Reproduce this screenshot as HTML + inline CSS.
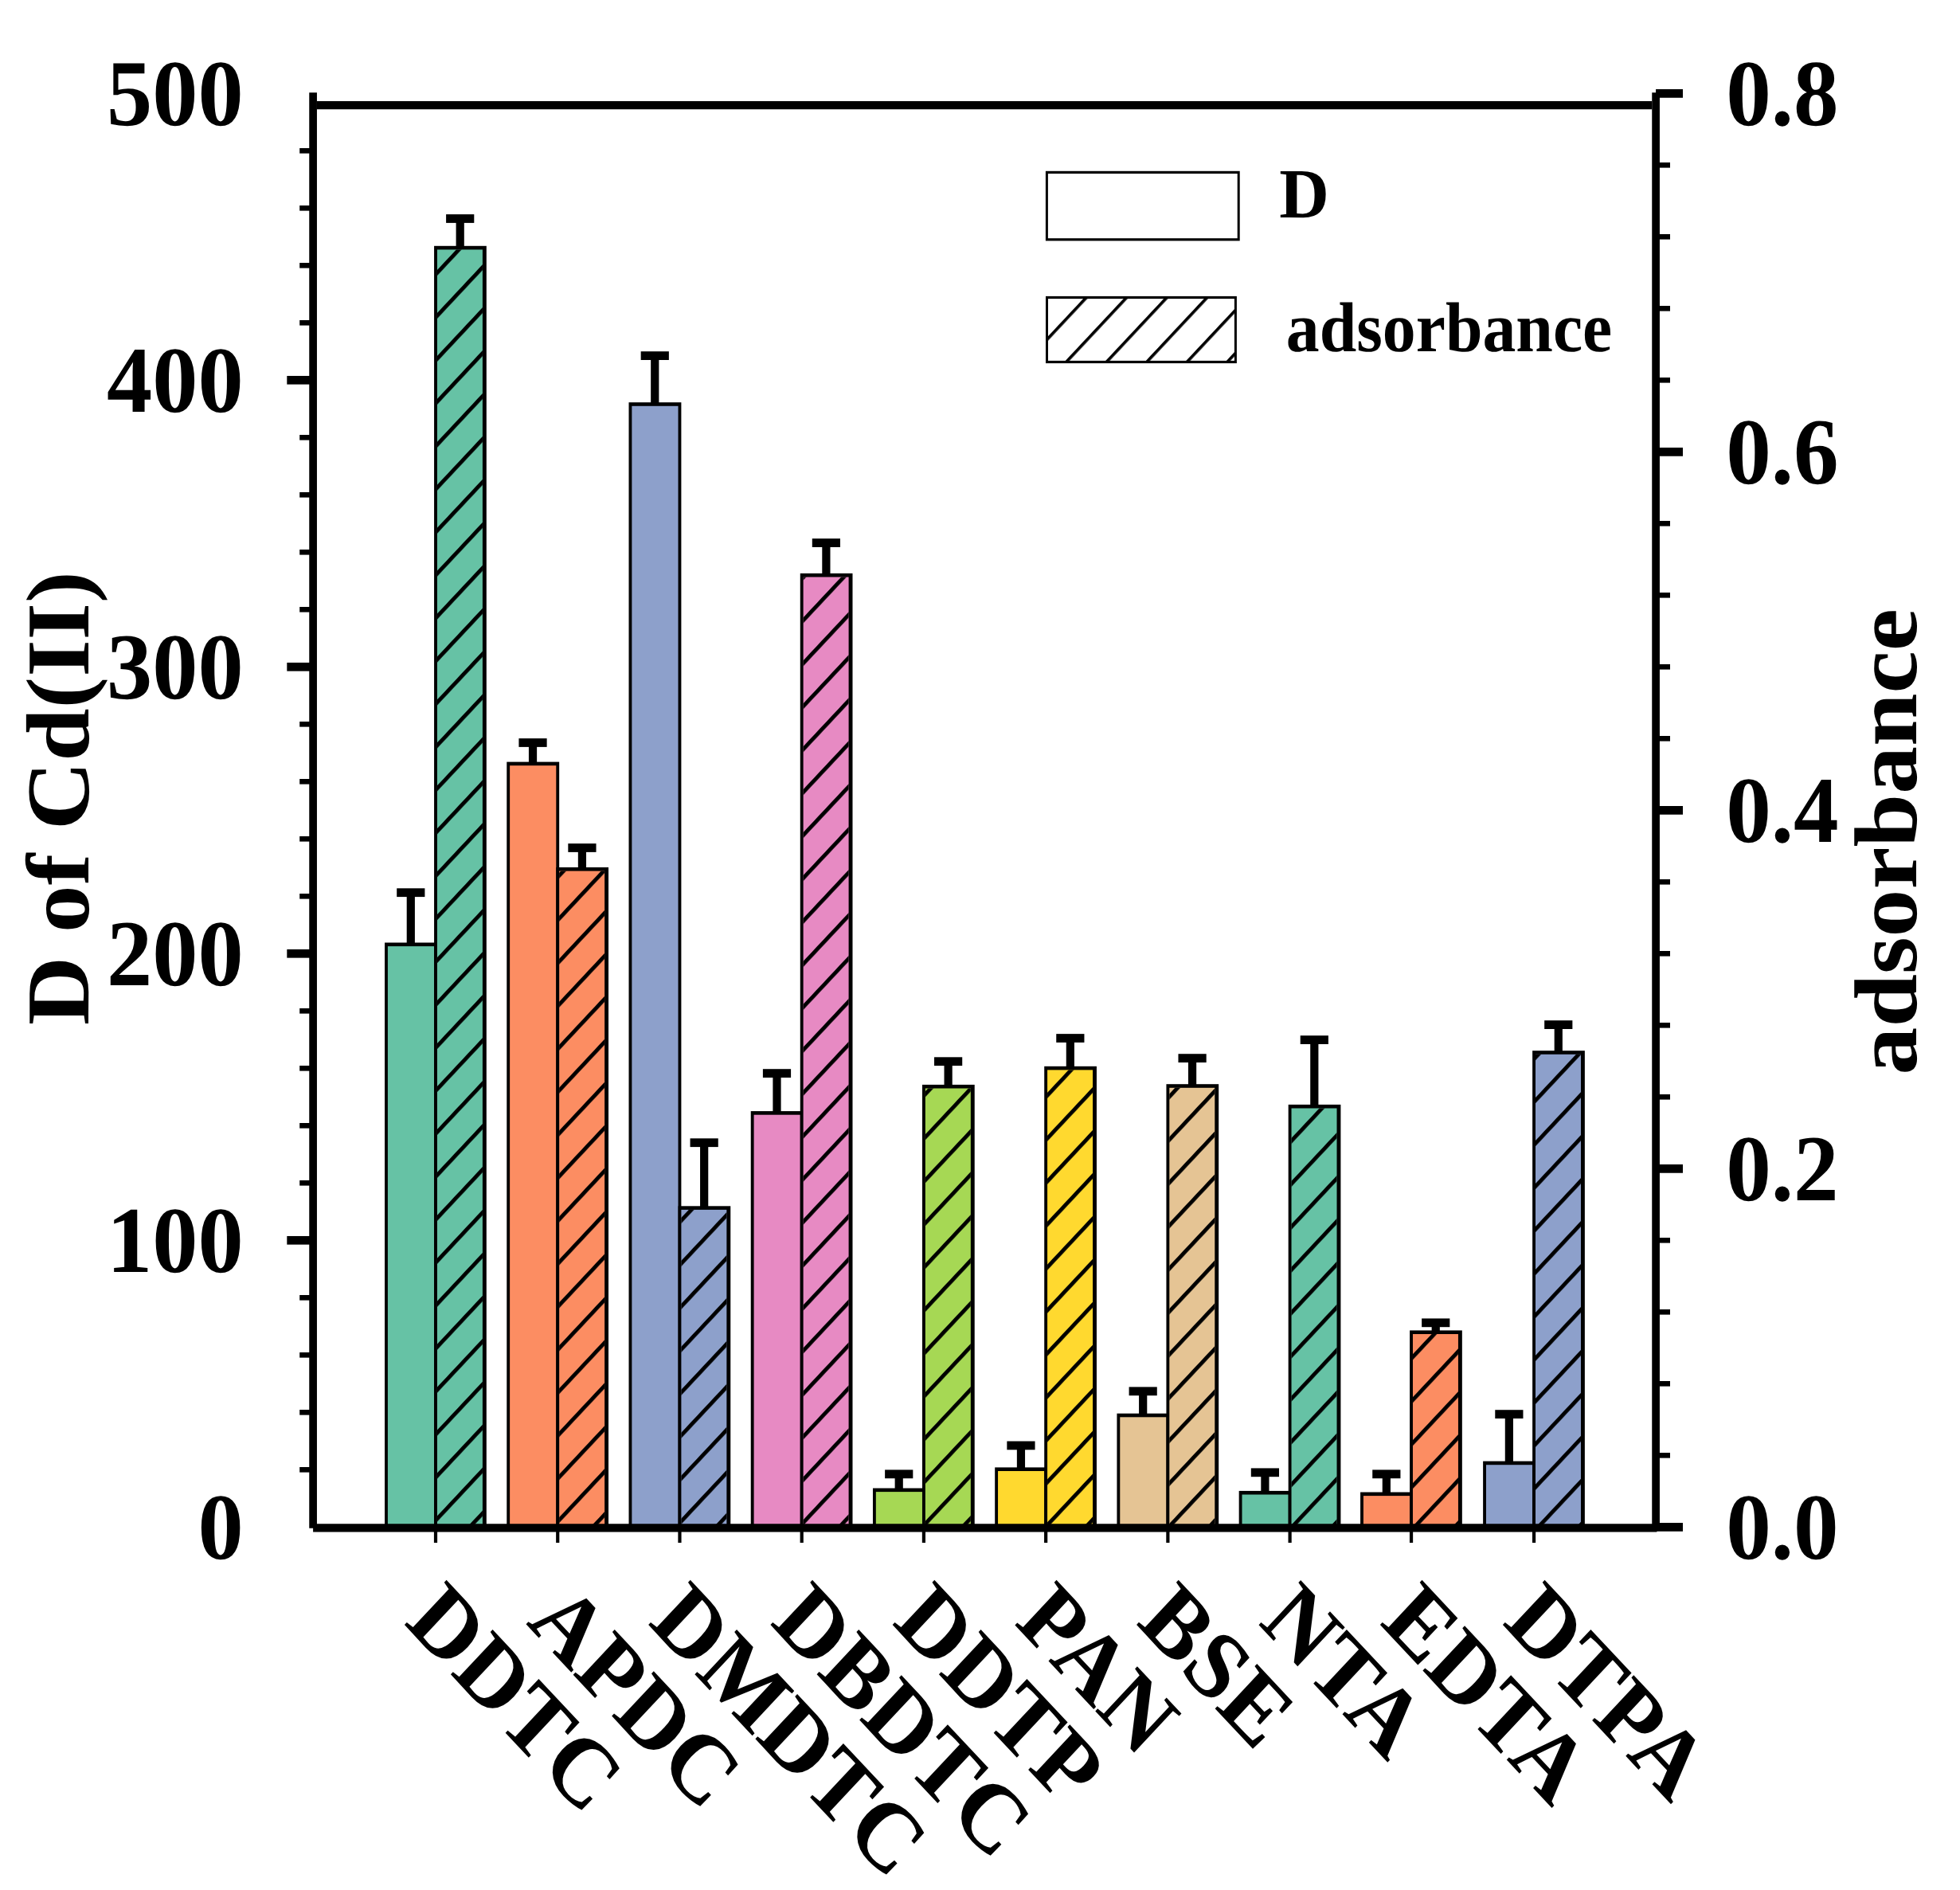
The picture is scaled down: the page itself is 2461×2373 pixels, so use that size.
<!DOCTYPE html>
<html lang="en"><head><meta charset="utf-8"><title>D of Cd(II) and adsorbance</title>
<style>html,body{margin:0;padding:0;background:#fff}body{width:2461px;height:2373px;overflow:hidden}svg{display:block}text{font-family:'Liberation Serif','Times New Roman',Times,serif;font-weight:bold;fill:#000;text-rendering:geometricPrecision}</style></head><body>
<svg width="2461" height="2373" viewBox="0 0 2461 2373">
<defs>
<pattern id="hb0" width="35.73" height="35.73" patternUnits="userSpaceOnUse" patternTransform="translate(7.42 0) rotate(-45)"><rect x="-1" y="0" width="37.73" height="4.7" fill="#000"/></pattern>
<pattern id="hb1" width="35.73" height="35.73" patternUnits="userSpaceOnUse" patternTransform="translate(10.53 0) rotate(-45)"><rect x="-1" y="0" width="37.73" height="4.7" fill="#000"/></pattern>
<pattern id="hb2" width="35.73" height="35.73" patternUnits="userSpaceOnUse" patternTransform="translate(13.65 0) rotate(-45)"><rect x="-1" y="0" width="37.73" height="4.7" fill="#000"/></pattern>
<pattern id="hb3" width="35.73" height="35.73" patternUnits="userSpaceOnUse" patternTransform="translate(16.76 0) rotate(-45)"><rect x="-1" y="0" width="37.73" height="4.7" fill="#000"/></pattern>
<pattern id="hb4" width="35.73" height="35.73" patternUnits="userSpaceOnUse" patternTransform="translate(19.87 0) rotate(-45)"><rect x="-1" y="0" width="37.73" height="4.7" fill="#000"/></pattern>
<pattern id="hb5" width="35.73" height="35.73" patternUnits="userSpaceOnUse" patternTransform="translate(22.98 0) rotate(-45)"><rect x="-1" y="0" width="37.73" height="4.7" fill="#000"/></pattern>
<pattern id="hb6" width="35.73" height="35.73" patternUnits="userSpaceOnUse" patternTransform="translate(26.09 0) rotate(-45)"><rect x="-1" y="0" width="37.73" height="4.7" fill="#000"/></pattern>
<pattern id="hb7" width="35.73" height="35.73" patternUnits="userSpaceOnUse" patternTransform="translate(29.2 0) rotate(-45)"><rect x="-1" y="0" width="37.73" height="4.7" fill="#000"/></pattern>
<pattern id="hb8" width="35.73" height="35.73" patternUnits="userSpaceOnUse" patternTransform="translate(31.51 0) rotate(-45)"><rect x="-1" y="0" width="37.73" height="4.7" fill="#000"/></pattern>
<pattern id="hb9" width="35.73" height="35.73" patternUnits="userSpaceOnUse" patternTransform="translate(35.42 0) rotate(-45)"><rect x="-1" y="0" width="37.73" height="4.7" fill="#000"/></pattern>
<pattern id="hl" width="35.73" height="35.73" patternUnits="userSpaceOnUse" patternTransform="translate(43.95 0) rotate(-45)"><rect x="-1" y="0" width="37.73" height="3.6" fill="#000"/></pattern>
</defs>
<rect width="2461" height="2373" fill="#fff"/>
<g transform="scale(1 1.06762)">
<rect x="483.05" y="1108.55" width="65.88" height="687.33" fill="#000"/>
<rect x="486.9" y="1112.85" width="58.17" height="683.02" fill="#66C2A5"/>
<rect x="545.07" y="289.24" width="65.73" height="1506.63" fill="#000"/>
<rect x="548.93" y="293.55" width="56.97" height="1502.32" fill="#66C2A5"/>
<rect x="548.93" y="293.55" width="56.97" height="1502.32" fill="url(#hb0)"/>
<rect x="510.7" y="1049.72" width="10.2" height="60.98" fill="#000"/>
<rect x="498.2" y="1044.67" width="35.2" height="10.1" fill="#000"/>
<rect x="572.6" y="257.12" width="10.2" height="34.28" fill="#000"/>
<rect x="560.1" y="252.06" width="35.2" height="10.1" fill="#000"/>
<rect x="636.28" y="896.02" width="65.88" height="899.86" fill="#000"/>
<rect x="640.13" y="900.32" width="58.17" height="895.55" fill="#FC8D62"/>
<rect x="698.3" y="1020.03" width="65.73" height="775.84" fill="#000"/>
<rect x="702.16" y="1024.34" width="56.97" height="771.53" fill="#FC8D62"/>
<rect x="702.16" y="1024.34" width="56.97" height="771.53" fill="url(#hb1)"/>
<rect x="663.93" y="873.44" width="10.2" height="24.73" fill="#000"/>
<rect x="651.43" y="868.39" width="35.2" height="10.1" fill="#000"/>
<rect x="725.83" y="997.08" width="10.2" height="25.1" fill="#000"/>
<rect x="713.33" y="992.03" width="35.2" height="10.1" fill="#000"/>
<rect x="789.51" y="473.2" width="65.88" height="1322.67" fill="#000"/>
<rect x="793.36" y="477.51" width="58.17" height="1318.36" fill="#8DA0CB"/>
<rect x="851.53" y="1418.39" width="65.73" height="377.48" fill="#000"/>
<rect x="855.39" y="1422.7" width="56.97" height="373.17" fill="#8DA0CB"/>
<rect x="855.39" y="1422.7" width="56.97" height="373.17" fill="url(#hb2)"/>
<rect x="817.16" y="418.32" width="10.2" height="57.04" fill="#000"/>
<rect x="804.66" y="413.27" width="35.2" height="10.1" fill="#000"/>
<rect x="879.06" y="1343.84" width="10.2" height="76.71" fill="#000"/>
<rect x="866.56" y="1338.79" width="35.2" height="10.1" fill="#000"/>
<rect x="942.74" y="1306.74" width="65.88" height="489.13" fill="#000"/>
<rect x="946.59" y="1311.05" width="58.17" height="484.82" fill="#E78AC3"/>
<rect x="1004.76" y="674.31" width="65.73" height="1121.56" fill="#000"/>
<rect x="1008.62" y="678.62" width="56.97" height="1117.26" fill="#E78AC3"/>
<rect x="1008.62" y="678.62" width="56.97" height="1117.26" fill="url(#hb3)"/>
<rect x="970.39" y="1262.25" width="10.2" height="46.65" fill="#000"/>
<rect x="957.89" y="1257.2" width="35.2" height="10.1" fill="#000"/>
<rect x="1032.29" y="638.43" width="10.2" height="38.03" fill="#000"/>
<rect x="1019.79" y="633.38" width="35.2" height="10.1" fill="#000"/>
<rect x="1095.97" y="1750.16" width="65.88" height="45.71" fill="#000"/>
<rect x="1099.82" y="1754.47" width="58.17" height="41.4" fill="#A6D854"/>
<rect x="1157.99" y="1275.65" width="65.73" height="520.22" fill="#000"/>
<rect x="1161.85" y="1279.96" width="56.97" height="515.92" fill="#A6D854"/>
<rect x="1161.85" y="1279.96" width="56.97" height="515.92" fill="url(#hb4)"/>
<rect x="1123.62" y="1733.58" width="10.2" height="18.73" fill="#000"/>
<rect x="1111.12" y="1728.53" width="35.2" height="10.1" fill="#000"/>
<rect x="1185.52" y="1248.3" width="10.2" height="29.5" fill="#000"/>
<rect x="1173.02" y="1243.25" width="35.2" height="10.1" fill="#000"/>
<rect x="1249.2" y="1725.71" width="65.88" height="70.16" fill="#000"/>
<rect x="1253.05" y="1730.02" width="58.17" height="65.85" fill="#FFD92F"/>
<rect x="1311.22" y="1254.01" width="65.73" height="541.86" fill="#000"/>
<rect x="1315.08" y="1258.32" width="56.97" height="537.55" fill="#FFD92F"/>
<rect x="1315.08" y="1258.32" width="56.97" height="537.55" fill="url(#hb5)"/>
<rect x="1276.85" y="1699.96" width="10.2" height="27.91" fill="#000"/>
<rect x="1264.35" y="1694.91" width="35.2" height="10.1" fill="#000"/>
<rect x="1338.75" y="1220.95" width="10.2" height="35.22" fill="#000"/>
<rect x="1326.25" y="1215.9" width="35.2" height="10.1" fill="#000"/>
<rect x="1402.43" y="1662.3" width="65.88" height="133.57" fill="#000"/>
<rect x="1406.28" y="1666.61" width="58.17" height="129.26" fill="#E5C494"/>
<rect x="1464.45" y="1274.99" width="65.73" height="520.88" fill="#000"/>
<rect x="1468.31" y="1279.3" width="56.97" height="516.57" fill="#E5C494"/>
<rect x="1468.31" y="1279.3" width="56.97" height="516.57" fill="url(#hb6)"/>
<rect x="1430.08" y="1636.17" width="10.2" height="28.29" fill="#000"/>
<rect x="1417.58" y="1631.12" width="35.2" height="10.1" fill="#000"/>
<rect x="1491.98" y="1244.46" width="10.2" height="32.69" fill="#000"/>
<rect x="1479.48" y="1239.41" width="35.2" height="10.1" fill="#000"/>
<rect x="1555.66" y="1753.35" width="65.88" height="42.52" fill="#000"/>
<rect x="1559.51" y="1757.66" width="58.17" height="38.22" fill="#66C2A5"/>
<rect x="1617.68" y="1299.06" width="65.73" height="496.81" fill="#000"/>
<rect x="1621.54" y="1303.37" width="56.97" height="492.5" fill="#66C2A5"/>
<rect x="1621.54" y="1303.37" width="56.97" height="492.5" fill="url(#hb7)"/>
<rect x="1583.31" y="1731.71" width="10.2" height="23.79" fill="#000"/>
<rect x="1570.81" y="1726.66" width="35.2" height="10.1" fill="#000"/>
<rect x="1645.21" y="1222.91" width="10.2" height="78.31" fill="#000"/>
<rect x="1632.71" y="1217.86" width="35.2" height="10.1" fill="#000"/>
<rect x="1708.09" y="1754.85" width="65.88" height="41.03" fill="#000"/>
<rect x="1711.94" y="1759.15" width="58.17" height="36.72" fill="#FC8D62"/>
<rect x="1770.11" y="1564.61" width="65.73" height="231.26" fill="#000"/>
<rect x="1773.97" y="1568.92" width="56.97" height="226.95" fill="#FC8D62"/>
<rect x="1773.97" y="1568.92" width="56.97" height="226.95" fill="url(#hb8)"/>
<rect x="1735.74" y="1733.58" width="10.2" height="23.42" fill="#000"/>
<rect x="1723.24" y="1728.53" width="35.2" height="10.1" fill="#000"/>
<rect x="1797.64" y="1555.62" width="10.2" height="11.15" fill="#000"/>
<rect x="1785.14" y="1550.57" width="35.2" height="10.1" fill="#000"/>
<rect x="1862.12" y="1718.41" width="65.88" height="77.46" fill="#000"/>
<rect x="1865.97" y="1722.72" width="58.17" height="73.15" fill="#8DA0CB"/>
<rect x="1924.14" y="1235.65" width="65.73" height="560.22" fill="#000"/>
<rect x="1928" y="1239.96" width="56.97" height="555.91" fill="#8DA0CB"/>
<rect x="1928" y="1239.96" width="56.97" height="555.91" fill="url(#hb9)"/>
<rect x="1889.77" y="1663.15" width="10.2" height="57.42" fill="#000"/>
<rect x="1877.27" y="1658.1" width="35.2" height="10.1" fill="#000"/>
<rect x="1951.67" y="1205.12" width="10.2" height="32.69" fill="#000"/>
<rect x="1939.17" y="1200.07" width="35.2" height="10.1" fill="#000"/>
<g stroke="#000" fill="none">
<line x1="393.1" y1="108.84" x2="393.1" y2="1797.18" stroke-width="9.7"/>
<line x1="2079.1" y1="108.84" x2="2079.1" y2="1797.18" stroke-width="9.7"/>
<line x1="393.1" y1="1796.9" x2="2080.4" y2="1796.9" stroke-width="9.7"/>
<line x1="397.7" y1="123.73" x2="2074.3" y2="123.73" stroke-width="9.7"/>
<line x1="376.2" y1="1728.43" x2="389" y2="1728.43" stroke-width="6.2"/>
<line x1="376.2" y1="1660.99" x2="389" y2="1660.99" stroke-width="6.2"/>
<line x1="376.2" y1="1593.55" x2="389" y2="1593.55" stroke-width="6.2"/>
<line x1="376.2" y1="1526.11" x2="389" y2="1526.11" stroke-width="6.2"/>
<line x1="360.3" y1="1458.67" x2="389" y2="1458.67" stroke-width="10"/>
<line x1="376.2" y1="1391.23" x2="389" y2="1391.23" stroke-width="6.2"/>
<line x1="376.2" y1="1323.79" x2="389" y2="1323.79" stroke-width="6.2"/>
<line x1="376.2" y1="1256.35" x2="389" y2="1256.35" stroke-width="6.2"/>
<line x1="376.2" y1="1188.91" x2="389" y2="1188.91" stroke-width="6.2"/>
<line x1="360.3" y1="1121.47" x2="389" y2="1121.47" stroke-width="10"/>
<line x1="376.2" y1="1054.03" x2="389" y2="1054.03" stroke-width="6.2"/>
<line x1="376.2" y1="986.59" x2="389" y2="986.59" stroke-width="6.2"/>
<line x1="376.2" y1="919.15" x2="389" y2="919.15" stroke-width="6.2"/>
<line x1="376.2" y1="851.71" x2="389" y2="851.71" stroke-width="6.2"/>
<line x1="360.3" y1="784.27" x2="389" y2="784.27" stroke-width="10"/>
<line x1="376.2" y1="716.83" x2="389" y2="716.83" stroke-width="6.2"/>
<line x1="376.2" y1="649.39" x2="389" y2="649.39" stroke-width="6.2"/>
<line x1="376.2" y1="581.95" x2="389" y2="581.95" stroke-width="6.2"/>
<line x1="376.2" y1="514.51" x2="389" y2="514.51" stroke-width="6.2"/>
<line x1="360.3" y1="447.07" x2="389" y2="447.07" stroke-width="10"/>
<line x1="376.2" y1="379.63" x2="389" y2="379.63" stroke-width="6.2"/>
<line x1="376.2" y1="312.19" x2="389" y2="312.19" stroke-width="6.2"/>
<line x1="376.2" y1="244.75" x2="389" y2="244.75" stroke-width="6.2"/>
<line x1="376.2" y1="177.31" x2="389" y2="177.31" stroke-width="6.2"/>
<line x1="2079.1" y1="1795.87" x2="2113" y2="1795.87" stroke-width="10"/>
<line x1="2083" y1="1711.57" x2="2097" y2="1711.57" stroke-width="6.2"/>
<line x1="2083" y1="1627.27" x2="2097" y2="1627.27" stroke-width="6.2"/>
<line x1="2083" y1="1542.97" x2="2097" y2="1542.97" stroke-width="6.2"/>
<line x1="2083" y1="1458.67" x2="2097" y2="1458.67" stroke-width="6.2"/>
<line x1="2079.1" y1="1374.37" x2="2113" y2="1374.37" stroke-width="10"/>
<line x1="2083" y1="1290.07" x2="2097" y2="1290.07" stroke-width="6.2"/>
<line x1="2083" y1="1205.77" x2="2097" y2="1205.77" stroke-width="6.2"/>
<line x1="2083" y1="1121.47" x2="2097" y2="1121.47" stroke-width="6.2"/>
<line x1="2083" y1="1037.17" x2="2097" y2="1037.17" stroke-width="6.2"/>
<line x1="2079.1" y1="952.87" x2="2113" y2="952.87" stroke-width="10"/>
<line x1="2083" y1="868.57" x2="2097" y2="868.57" stroke-width="6.2"/>
<line x1="2083" y1="784.27" x2="2097" y2="784.27" stroke-width="6.2"/>
<line x1="2083" y1="699.97" x2="2097" y2="699.97" stroke-width="6.2"/>
<line x1="2083" y1="615.67" x2="2097" y2="615.67" stroke-width="6.2"/>
<line x1="2079.1" y1="531.37" x2="2113" y2="531.37" stroke-width="10"/>
<line x1="2083" y1="447.07" x2="2097" y2="447.07" stroke-width="6.2"/>
<line x1="2083" y1="362.77" x2="2097" y2="362.77" stroke-width="6.2"/>
<line x1="2083" y1="278.47" x2="2097" y2="278.47" stroke-width="6.2"/>
<line x1="2083" y1="194.17" x2="2097" y2="194.17" stroke-width="6.2"/>
<line x1="2079.1" y1="109.87" x2="2113" y2="109.87" stroke-width="10"/>
<line x1="547" y1="1798.4" x2="547" y2="1814.32" stroke-width="4.2"/>
<line x1="700.23" y1="1798.4" x2="700.23" y2="1814.32" stroke-width="4.2"/>
<line x1="853.46" y1="1798.4" x2="853.46" y2="1814.32" stroke-width="4.2"/>
<line x1="1006.69" y1="1798.4" x2="1006.69" y2="1814.32" stroke-width="4.2"/>
<line x1="1159.92" y1="1798.4" x2="1159.92" y2="1814.32" stroke-width="4.2"/>
<line x1="1313.15" y1="1798.4" x2="1313.15" y2="1814.32" stroke-width="4.2"/>
<line x1="1466.38" y1="1798.4" x2="1466.38" y2="1814.32" stroke-width="4.2"/>
<line x1="1619.61" y1="1798.4" x2="1619.61" y2="1814.32" stroke-width="4.2"/>
<line x1="1772.04" y1="1798.4" x2="1772.04" y2="1814.32" stroke-width="4.2"/>
<line x1="1926.07" y1="1798.4" x2="1926.07" y2="1814.32" stroke-width="4.2"/>
</g>
<text transform="translate(305.6 1833.24) scale(1.03 1)" font-size="111" text-anchor="end">0</text>
<text transform="translate(305.6 1496.04) scale(1.03 1)" font-size="111" text-anchor="end">100</text>
<text transform="translate(305.6 1158.84) scale(1.03 1)" font-size="111" text-anchor="end">200</text>
<text transform="translate(305.6 821.64) scale(1.03 1)" font-size="111" text-anchor="end">300</text>
<text transform="translate(305.6 484.44) scale(1.03 1)" font-size="111" text-anchor="end">400</text>
<text transform="translate(305.6 147.24) scale(1.03 1)" font-size="111" text-anchor="end">500</text>
<text transform="translate(2167.2 1833.15) scale(1.02 1)" font-size="111">0.0</text>
<text transform="translate(2167.2 1411.65) scale(1.02 1)" font-size="111">0.2</text>
<text transform="translate(2167.2 990.15) scale(1.02 1)" font-size="111">0.4</text>
<text transform="translate(2167.2 568.65) scale(1.02 1)" font-size="111">0.6</text>
<text transform="translate(2167.2 147.15) scale(1.02 1)" font-size="111">0.8</text>
<text transform="translate(111 938.63) rotate(-90) scale(1.006 1.015)" font-size="111" text-anchor="middle">D of Cd(II)</text>
<text transform="translate(2405.6 989.87) rotate(-90) scale(1.01 1.01)" font-size="111" text-anchor="middle">adsorbance</text>
<text transform="translate(506.4 1909.49) rotate(45) scale(1.025 1.025)" font-size="111">DDTC</text>
<text transform="translate(659.63 1909.49) rotate(45) scale(1.025 1.025)" font-size="111">APDC</text>
<text transform="translate(812.86 1909.49) rotate(45) scale(1.025 1.025)" font-size="111">DMDTC</text>
<text transform="translate(966.09 1909.49) rotate(45) scale(1.025 1.025)" font-size="111">DBDTC</text>
<text transform="translate(1119.32 1909.49) rotate(45) scale(1.025 1.025)" font-size="111">DDTP</text>
<text transform="translate(1272.55 1909.49) rotate(45) scale(1.025 1.025)" font-size="111">PAN</text>
<text transform="translate(1425.78 1909.49) rotate(45) scale(1.025 1.025)" font-size="111">BSE</text>
<text transform="translate(1579.01 1909.49) rotate(45) scale(1.025 1.025)" font-size="111">NTA</text>
<text transform="translate(1731.44 1909.49) rotate(45) scale(1.025 1.025)" font-size="111">EDTA</text>
<text transform="translate(1885.47 1909.49) rotate(45) scale(1.025 1.025)" font-size="111">DTPA</text>
<rect x="1314.4" y="202.69" width="240.8" height="79.05" fill="#fff" stroke="#000" stroke-width="3.0"/>
<rect x="1314.5" y="349.85" width="236.9" height="75.87" fill="#fff"/>
<rect x="1314.5" y="349.85" width="236.9" height="75.87" fill="url(#hl)" stroke="#000" stroke-width="3.0"/>
<text transform="translate(1606.3 255.99) scale(1.045 1)" font-size="83">D</text>
<text transform="translate(1614.8 412.79) scale(1.009 1)" font-size="83">adsorbance</text>
</g></svg></body></html>
